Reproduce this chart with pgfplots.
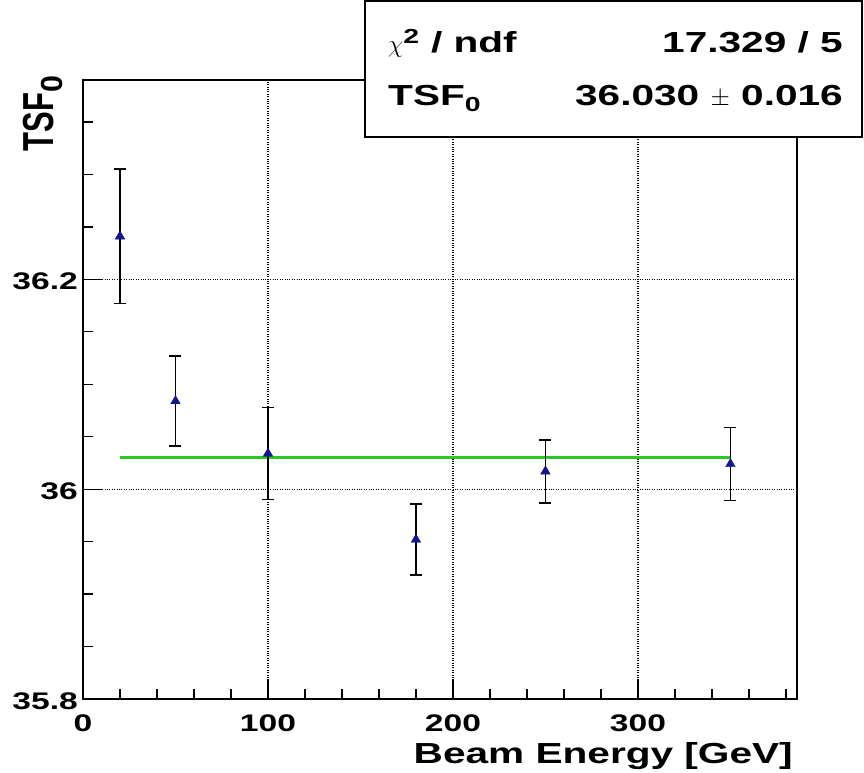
\documentclass[border=0pt]{standalone}
\usepackage{pgfplots}
\pgfplotsset{compat=1.18}
\usepackage{pgfplotstable}
\usepackage{fontspec}
\setmainfont{Liberation Sans}[FakeStretch=1.4]
\newfontfamily\plainsans{Liberation Sans}
\definecolor{fitgreen}{RGB}{40,200,40}
\definecolor{mkblue}{RGB}{20,20,140}
\pgfplotstableread{
x y err
20 36.241 0.064
50 36.084 0.043
100 36.034 0.044
180 35.952 0.034
250 36.017 0.030
350 36.024 0.035
}\datatable
\begin{document}
\begin{tikzpicture}[x=1pt,y=1pt]
\path[use as bounding box] (0,0) rectangle (864,772);
\begin{axis}[
 at={(83pt,73pt)}, anchor=south west,
 scale only axis, width=714pt, height=619pt,
 xmin=0, xmax=386, ymin=35.8, ymax=36.39,
 xtick={0,100,200,300},
 minor xtick={20,40,60,80,120,140,160,180,220,240,260,280,320,340,360,380},
 ytick={35.8,36,36.2},
 minor ytick={35.85,35.9,35.95,36.05,36.1,36.15,36.25,36.3,36.35},
 xtick pos=left, ytick pos=left,
 tick align=inside, major tick length=20pt, minor tick length=10pt,
 grid=major, major grid style={black, dotted, line width=1.2pt},
 minor grid style={draw=none},
 axis line style={line width=1.5pt},
 every tick/.style={line width=1.3pt, black},
 /pgf/number format/assume math mode=true,
 yticklabel style={font=\bfseries\fontsize{24}{24}\selectfont, anchor=east, inner sep=0pt, xshift=-5pt, yshift=-2pt},
 xticklabel style={font=\bfseries\fontsize{24}{24}\selectfont, anchor=north, inner sep=0pt, yshift=-16pt},
 xlabel={Beam Energy [GeV]},
 xlabel style={font=\bfseries\fontsize{29}{29}\selectfont, at={(axis description cs:1,0)}, anchor=base east, inner sep=0pt, yshift=-64pt, xshift=-4pt},
 clip=false,
]
\addplot[fitgreen, line width=3pt] coordinates {(20,36.030) (350,36.030)};
\addplot[only marks, mark=triangle*, mark size=5.5pt, mark options={mkblue, fill=mkblue},
  error bars/.cd, y dir=both, y explicit,
  error bar style={black, line width=1.5pt},
  error mark options={black, rotate=90, mark size=6pt, line width=1.5pt}]
  table[x=x, y=y, y error=err] {\datatable};
\end{axis}
% y label (rotated, right-aligned to the top of the axis)
\node[rotate=90, anchor=base east, inner sep=0pt] at (53,692)
  {\scalebox{1}[1.4]{\plainsans\bfseries\fontsize{31}{31}\selectfont TSF$_{\mathbf{0}}$}};
% fit statistics box
\draw[line width=1.5pt, fill=white] (365,635) rectangle (862,771);
\node[anchor=base west, inner sep=0pt, font=\bfseries\fontsize{29}{29}\selectfont] at (388,719) {$\chi$\textsuperscript{2} / ndf};
\node[anchor=base east, inner sep=0pt, font=\bfseries\fontsize{29}{29}\selectfont] at (843,719) {17.329 / 5};
\node[anchor=base west, inner sep=0pt, font=\bfseries\fontsize{29}{29}\selectfont] at (388,666) {TSF$_{\mathbf{0}}$};
\node[anchor=base east, inner sep=0pt, font=\bfseries\fontsize{29}{29}\selectfont] at (843,666) {36.030 $\pm$ 0.016};
\end{tikzpicture}
\end{document}
